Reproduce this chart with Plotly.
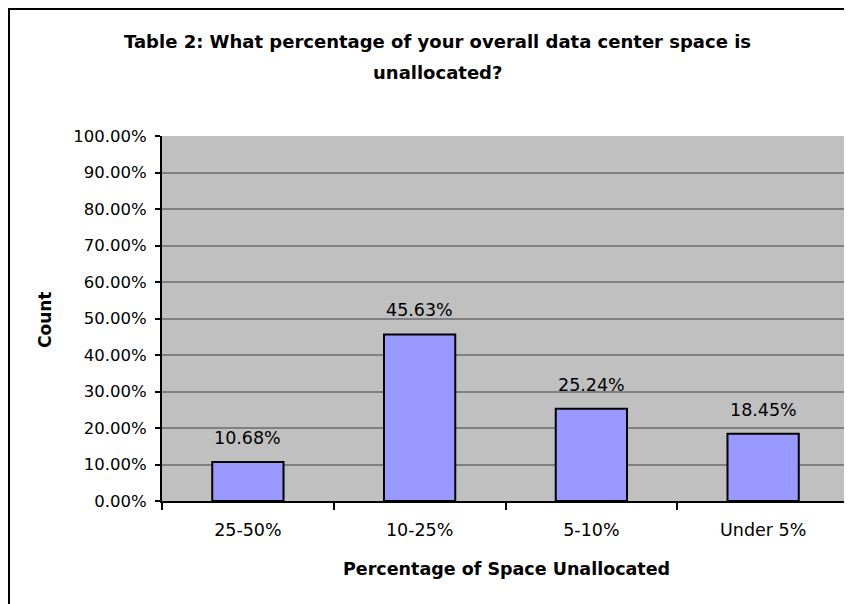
import plotly.graph_objects as go

categories = ["25-50%", "10-25%", "5-10%", "Under 5%"]
values = [10.68, 45.63, 25.24, 18.45]
y_ticks = [0, 10, 20, 30, 40, 50, 60, 70, 80, 90, 100]

FONT = "DejaVu Sans"
OFF = 8  # page body margin

fig = go.Figure()
fig.add_trace(go.Bar(
    x=categories, y=values,
    marker=dict(color="#9999FF", line=dict(color="black", width=2)),
    width=0.415,
    hoverinfo="skip",
))

for c, v in zip(categories, values):
    fig.add_annotation(x=c, y=v, text=f"{v:.2f}%", showarrow=False,
                       yanchor="bottom", yshift=12,
                       font=dict(family=FONT, size=17.5, color="black"))

# plot area geometry in screen pixels
L, R, T, B = 162, 849, 136, 501
W, H = R - L, B - T
def px(x):
    return (x - L) / W
def py(y):
    return (B - y) / H

# outer chart border
fig.add_shape(type="rect", xref="paper", yref="paper",
              x0=px(9), x1=px(870), y0=py(9), y1=py(640),
              line=dict(color="black", width=2), layer="below")
# right border of plot area
fig.add_shape(type="line", xref="paper", yref="paper",
              x0=1, x1=1, y0=0, y1=1,
              line=dict(color="#808080", width=2))

fig.add_annotation(xref="paper", yref="paper", x=px(437), y=py(42),
                   text="<b>Table 2: What percentage of your overall data center space is</b>",
                   showarrow=False, xanchor="center", yanchor="middle",
                   font=dict(family=FONT, size=18, color="black"))
fig.add_annotation(xref="paper", yref="paper", x=px(437), y=py(72),
                   text="<b>unallocated?</b>",
                   showarrow=False, xanchor="center", yanchor="middle",
                   font=dict(family=FONT, size=18, color="black"))
fig.add_annotation(xref="paper", yref="paper", x=px(507), y=py(569),
                   text="<b>Percentage of Space Unallocated</b>",
                   showarrow=False, xanchor="center", yanchor="middle",
                   font=dict(family=FONT, size=17.5, color="black"))
fig.add_annotation(xref="paper", yref="paper", x=px(45), y=py(320),
                   text="<b>Count</b>", textangle=-90,
                   showarrow=False, xanchor="center", yanchor="middle",
                   font=dict(family=FONT, size=17, color="black"))

fig.update_layout(
    width=852, height=604,
    margin=dict(l=L - OFF, r=852 + OFF - R, t=T - OFF, b=604 + OFF - B),
    paper_bgcolor="white", plot_bgcolor="#C0C0C0",
    showlegend=False,
    xaxis=dict(
        type="category", range=[-0.5, 3.5],
        showline=True, linecolor="black", linewidth=2,
        ticks="outside", tickson="boundaries", ticklen=7, tickcolor="black", tickwidth=2,
        ticklabelstandoff=12,
        showgrid=False,
        tickfont=dict(family=FONT, size=17.5, color="black"),
    ),
    yaxis=dict(
        range=[0, 100], tickvals=y_ticks,
        ticktext=[f"{t:.2f}%" for t in y_ticks],
        showline=True, linecolor="black", linewidth=2,
        ticks="outside", ticklen=5, tickcolor="black", tickwidth=2,
        ticklabelstandoff=5,
        showgrid=True, gridcolor="#808080", gridwidth=2,
        zeroline=False,
        tickfont=dict(family=FONT, size=16.5, color="black"),
    ),
)

fig.write_html("out.html")
